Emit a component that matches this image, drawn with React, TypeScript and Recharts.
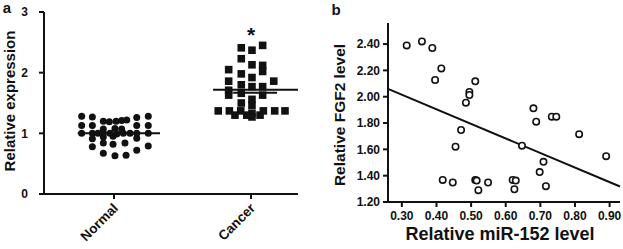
import { ScatterChart, Scatter, XAxis, YAxis, ReferenceLine } from "recharts";

// panel a: per-group jitter offset (x) and relative expression (y)
const groups = ["Normal", "Cancer"];

const normalOffset = [
  -0.236, -0.158, 0.166, 0.25,
  -0.078, -0.034, 0.015, 0.056, 0.093,
  -0.236, -0.158, 0.166, 0.25,
  -0.078, 0.007, 0.056,
  -0.236, -0.158, -0.117, -0.078, -0.029, 0.02, 0.068, 0.117, 0.166, 0.25,
  -0.078, -0.007,
  -0.158, 0.166,
  -0.078, -0.007, 0.08,
  -0.158, 0.25,
  0.166,
  -0.078, 0.007, 0.088,
];
const normalValue = [
  1.28, 1.27, 1.26, 1.28,
  1.2, 1.19, 1.2, 1.21, 1.22,
  1.13, 1.13, 1.13, 1.13,
  1.07, 1.08, 1.07,
  1.0, 1.0, 1.0, 1.0, 1.0, 0.99, 1.0, 1.0, 1.0, 1.0,
  0.94, 0.95,
  0.91, 0.92,
  0.84, 0.82, 0.84,
  0.78, 0.79,
  0.72,
  0.67, 0.63, 0.64,
];

const cancerOffset = [
  0.085,
  -0.071, 0.007,
  -0.071,
  0.085, 0.007,
  -0.163, 0.085,
  -0.071,
  0.007,
  -0.163, 0.166,
  -0.071,
  0.007, 0.085,
  -0.163,
  -0.071,
  -0.163, 0.085,
  0.007,
  -0.071,
  0.007,
  -0.239, -0.158, -0.075, 0.09, 0.173, 0.248,
  0.007,
  -0.117, -0.031, 0.066,
  0.007,
];
const cancerValue = [
  2.45,
  2.41, 2.37,
  2.23,
  2.12, 2.13,
  2.05, 2.02,
  1.98,
  1.92,
  1.86, 1.86,
  1.8,
  1.77, 1.77,
  1.71,
  1.66,
  1.63, 1.63,
  1.56,
  1.5,
  1.46,
  1.37, 1.37, 1.37, 1.37, 1.37, 1.37,
  1.33,
  1.3, 1.3, 1.3,
  1.27,
];

const normalMean = 1.0;
const cancerMean = 1.72;
const cancerMedian = 1.67;
const starValue = 2.7;

// panel b: relative miR-152 level (x) vs relative FGF2 level (y)
const mirLevel = [
  0.314, 0.358, 0.388, 0.414, 0.396, 0.512, 0.495, 0.495, 0.485,
  0.471, 0.455, 0.418, 0.447, 0.512, 0.516, 0.521, 0.549,
  0.647, 0.812, 0.89, 0.709, 0.698, 0.716, 0.62, 0.629, 0.625,
  0.688, 0.733, 0.746, 0.68,
];
const fgf2Level = [
  2.39, 2.42, 2.37, 2.215, 2.127, 2.117, 2.036, 2.013, 1.955,
  1.747, 1.62, 1.368, 1.348, 1.368, 1.363, 1.29, 1.348,
  1.628, 1.715, 1.548, 1.505, 1.427, 1.32, 1.368, 1.363, 1.297,
  1.81, 1.848, 1.848, 1.912,
];
const fitSlope = -1.107;
const fitIntercept = 2.347;

const xTicksB = [0.3, 0.4, 0.5, 0.6, 0.7, 0.8, 0.9];
const yTicksB = [1.2, 1.4, 1.6, 1.8, 2.0, 2.2, 2.4];

const normalData = normalOffset.map((o, i) => ({ x: 1 + o, y: normalValue[i] }));
const cancerData = cancerOffset.map((o, i) => ({ x: 2 + o, y: cancerValue[i] }));
const starData = [{ x: 2, y: starValue }];
const corrData = mirLevel.map((x, i) => ({ x, y: fgf2Level[i] }));

const FONT = "'Liberation Sans', Arial, sans-serif";
const INK = "#111";
const tickFont = { fontFamily: FONT, fontSize: 12, fontWeight: 700, fill: INK };
const axisStroke = { stroke: INK, strokeWidth: 2 };

const title = (text: string, x: number, y: number, angle = 0, size = 14) => () => (
  <text
    x={x}
    y={y}
    textAnchor="middle"
    transform={angle ? `rotate(${angle}, ${x}, ${y})` : undefined}
    style={{ fontFamily: FONT, fontSize: size, fontWeight: 700, fill: INK }}
  >
    {text}
  </text>
);

const GroupTick = (props: any) => {
  const { x, y, payload } = props;
  return (
    <g transform={`translate(${x},${y})`}>
      <text
        x={5}
        y={8}
        textAnchor="end"
        transform="rotate(-45, 5, 8)"
        style={{ ...tickFont, fontSize: 13.5 }}
      >
        {groups[payload.value - 1]}
      </text>
    </g>
  );
};

const dot = (p: any) => <circle cx={p.cx} cy={p.cy} r={3.5} fill={INK} />;
const square = (p: any) => <rect x={p.cx - 3.8} y={p.cy - 3.8} width={7.6} height={7.6} fill={INK} />;
const star = (p: any) => (
  <text x={p.cx} y={p.cy + 12} textAnchor="middle" style={{ fontFamily: FONT, fontSize: 21, fontWeight: 700, fill: INK }}>
    *
  </text>
);
const ring = (p: any) => <circle cx={p.cx} cy={p.cy} r={3.2} fill="#fff" stroke={INK} strokeWidth={1.6} />;

export default function App() {
  return (
    <div style={{ position: "absolute", left: 0, top: 0, width: 623, height: 249, display: "flex", background: "#fff" }}>
      <div style={{ position: "relative" }}>
        <ScatterChart width={300} height={249} margin={{ top: 12, right: 2, left: 0, bottom: 0 }}>
          <XAxis
            type="number"
            dataKey="x"
            domain={[0.489, 2.343]}
            ticks={[1, 2]}
            allowDataOverflow
            height={55}
            tick={GroupTick}
            tickSize={5}
            axisLine={axisStroke}
            tickLine={axisStroke}
            label={{ content: title("a", 7, 13, 0, 15) }}
          />
          <YAxis
            type="number"
            dataKey="y"
            domain={[0, 3]}
            ticks={[0, 1, 2, 3]}
            width={44}
            tickSize={5}
            tickMargin={11}
            tick={tickFont}
            axisLine={axisStroke}
            tickLine={axisStroke}
            label={{ content: title("Relative expression", 15, 101, -90, 15) }}
          />
          <Scatter data={normalData} shape={dot} isAnimationActive={false} />
          <Scatter data={cancerData} shape={square} isAnimationActive={false} />
          <Scatter data={starData} shape={star} isAnimationActive={false} />
          <ReferenceLine segment={[{ x: 0.735, y: normalMean }, { x: 1.336, y: normalMean }]} stroke={INK} strokeWidth={2} />
          <ReferenceLine segment={[{ x: 1.723, y: cancerMean }, { x: 2.343, y: cancerMean }]} stroke={INK} strokeWidth={2} />
          <ReferenceLine segment={[{ x: 1.87, y: cancerMedian }, { x: 2.19, y: cancerMedian }]} stroke={INK} strokeWidth={2} />
        </ScatterChart>
      </div>
      <div style={{ position: "relative" }}>
        <ScatterChart width={323} height={249} margin={{ top: 23, right: 3, left: 0, bottom: 0 }}>
          <XAxis
            type="number"
            dataKey="x"
            domain={[0.26, 0.93]}
            ticks={xTicksB}
            allowDataOverflow
            height={47}
            tickSize={5}
            tickMargin={4}
            tickFormatter={(v: number) => v.toFixed(2)}
            tick={tickFont}
            axisLine={axisStroke}
            tickLine={axisStroke}
            label={{ content: title("Relative miR-152 level", 200, 240, 0, 18) }}
          />
          <YAxis
            type="number"
            dataKey="y"
            domain={[1.2, 2.56]}
            ticks={yTicksB}
            allowDataOverflow
            width={88}
            tickSize={5}
            tickMargin={3}
            tickFormatter={(v: number) => v.toFixed(2)}
            tick={tickFont}
            axisLine={axisStroke}
            tickLine={axisStroke}
            label={{ content: title("Relative FGF2 level", 45, 115, -90, 15.5) }}
          />
          <ReferenceLine
            segment={[
              { x: 0.26, y: fitIntercept + fitSlope * 0.26 },
              { x: 0.93, y: fitIntercept + fitSlope * 0.93 },
            ]}
            stroke={INK}
            strokeWidth={2}
          />
          <Scatter data={corrData} shape={ring} isAnimationActive={false} />
          <text x={36} y={15} textAnchor="middle" style={{ fontFamily: FONT, fontSize: 15, fontWeight: 700, fill: INK }}>
            b
          </text>
        </ScatterChart>
      </div>
    </div>
  );
}
